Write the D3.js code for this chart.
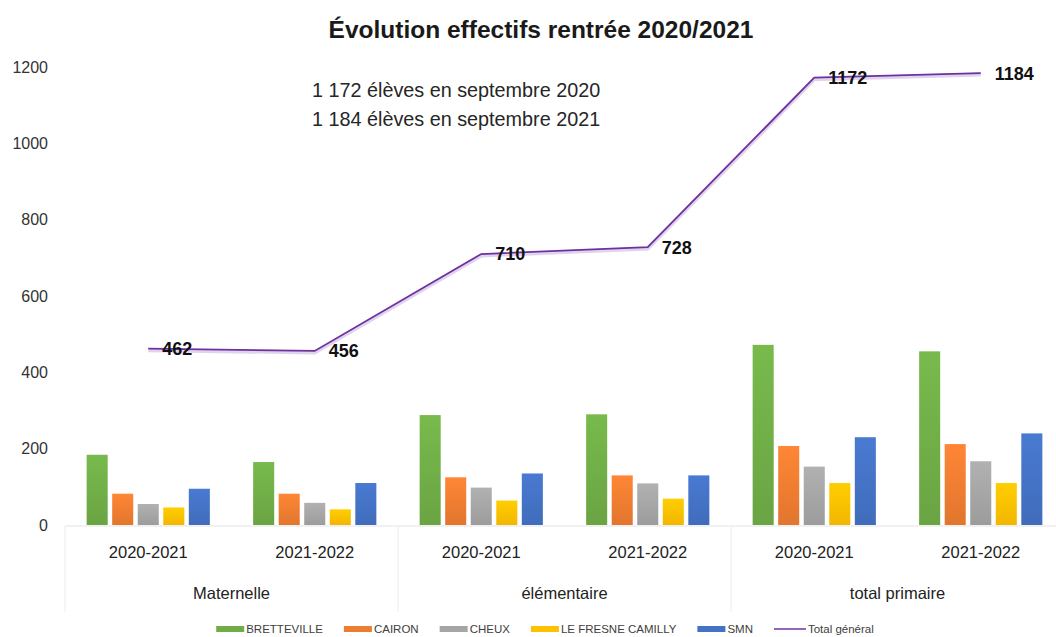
<!DOCTYPE html>
<html>
<head>
<meta charset="utf-8">
<script src="https://cdn.jsdelivr.net/npm/d3@7"></script>
<style>
  html, body { margin: 0; padding: 0; background: #fff; }
  svg { display: block; font-family: "Liberation Sans", Arial, sans-serif; }
</style>
</head>
<body>
<svg id="chart" width="1056" height="637"></svg>
<script>
// ---- Data ----
const categories = ["2020-2021", "2021-2022", "2020-2021", "2021-2022", "2020-2021", "2021-2022"];
const groups = ["Maternelle", "élémentaire", "total primaire"];
const seriesNames = ["BRETTEVILLE", "CAIRON", "CHEUX", "LE FRESNE CAMILLY", "SMN"];
const bretteville = [184, 165, 288, 290, 472, 455];
const cairon = [82, 82, 125, 130, 207, 212];
const cheux = [55, 58, 98, 109, 153, 167];
const fresne = [46, 41, 64, 69, 110, 110];
const smn = [95, 110, 135, 130, 230, 240];
const totalGeneral = [462, 456, 710, 728, 1172, 1184];
const yTicks = [0, 200, 400, 600, 800, 1000, 1200];
const lineName = "Total général";
const title = "Évolution effectifs rentrée 2020/2021";
const notes = ["1 172 élèves en septembre 2020", "1 184 élèves en septembre 2021"];

const seriesValues = [bretteville, cairon, cheux, fresne, smn];
const colors = ["#70AD47", "#ED7D31", "#A5A5A5", "#FFC000", "#4472C4"];
const lineColor = "#7030A0";

// ---- Layout ----
const svg = d3.select("#chart");
const plotLeft = 65, plotRight = 1064, plotTop = 67, plotBottom = 525;

const x = d3.scaleBand().domain(d3.range(categories.length)).range([plotLeft, plotRight]).paddingInner(0).paddingOuter(0);
const bw = x.bandwidth();
const xi = d3.scaleBand().domain(d3.range(seriesNames.length)).range([bw * 0.13, bw * 0.87]).paddingInner(0.176).paddingOuter(0);
const y = d3.scaleLinear().domain([0, 1200]).range([plotBottom, plotTop]);

const defs = svg.append("defs");
colors.forEach((c, i) => {
  const g = defs.append("linearGradient").attr("id", "grad" + i).attr("x1", 0).attr("y1", 0).attr("x2", 0).attr("y2", 1);
  g.append("stop").attr("offset", "0%").attr("stop-color", d3.color(c).brighter(0.2));
  g.append("stop").attr("offset", "100%").attr("stop-color", d3.color(c).darker(0.15));
});

// Title
svg.append("text").attr("x", 541).attr("y", 38).attr("text-anchor", "middle")
  .attr("font-size", 24.5).attr("font-weight", "bold").attr("fill", "#1a1a1a").text(title);

// Notes
notes.forEach((t, i) => {
  svg.append("text").attr("x", 312).attr("y", 97 + i * 29).attr("font-size", 19.8)
    .attr("fill", "#262626").text(t);
});

// Y axis labels
const yAxis = d3.axisLeft(y).tickValues(yTicks).tickFormat(d3.format("d")).tickSize(0).tickPadding(0);
const yg = svg.append("g").attr("transform", "translate(48,0)").call(yAxis);
yg.select(".domain").remove();
yg.selectAll("text").attr("font-size", 16).attr("fill", "#333").attr("font-family", "Liberation Sans, Arial, sans-serif");

// Bars
seriesValues.forEach((vals, si) => {
  svg.append("g").selectAll("rect").data(vals).join("rect")
    .attr("x", (d, i) => x(i) + xi(si))
    .attr("y", d => y(d))
    .attr("width", xi.bandwidth())
    .attr("height", d => y(0) - y(d))
    .attr("fill", `url(#grad${si})`);
});

// X axis base line and separators
svg.append("line").attr("x1", plotLeft).attr("x2", plotRight).attr("y1", plotBottom + 1).attr("y2", plotBottom + 1)
  .attr("stroke", "#e3e3e3").attr("stroke-width", 1);
[0, 2, 4, 6].forEach(k => {
  const xx = k < 6 ? x(k) : plotRight;
  svg.append("line").attr("x1", xx).attr("x2", xx).attr("y1", plotBottom + 1).attr("y2", 612)
    .attr("stroke", "#ececec").attr("stroke-width", 1);
});

// X labels
const xAxis = d3.axisBottom(x).tickFormat(i => categories[i]).tickSize(0).tickPadding(0);
const xg = svg.append("g").attr("transform", `translate(0,${plotBottom})`).call(xAxis);
xg.select(".domain").remove();
xg.selectAll("text").attr("font-size", 16.5).attr("fill", "#222").attr("dy", 0).attr("y", 33)
  .attr("font-family", "Liberation Sans, Arial, sans-serif");

groups.forEach((g, gi) => {
  const cx = x(gi * 2) + bw;
  svg.append("text").attr("x", cx).attr("y", 599).attr("text-anchor", "middle")
    .attr("font-size", 16.5).attr("fill", "#222").text(g);
});

// Line
const line = d3.line().x((d, i) => x(i) + bw / 2).y(d => y(d));
svg.append("path").datum(totalGeneral).attr("d", line).attr("fill", "none")
  .attr("stroke", "#b9a0d8").attr("stroke-width", 4).attr("opacity", 0.45).attr("transform", "translate(0,1.5)");
svg.append("path").datum(totalGeneral).attr("d", line).attr("fill", "none")
  .attr("stroke", lineColor).attr("stroke-width", 1.8);

// Line labels
svg.append("g").selectAll("text").data(totalGeneral).join("text")
  .attr("x", (d, i) => x(i) + bw / 2 + 14)
  .attr("y", d => y(d))
  .attr("dy", "0.36em")
  .attr("font-size", 18).attr("font-weight", "bold").attr("fill", "#111")
  .text(d => d);

// Legend
const legend = svg.append("g");
const items = seriesNames.map((n, i) => ({ name: n, color: colors[i], type: "bar" }))
  .concat([{ name: lineName, color: lineColor, type: "line" }]);
let cursor = 0;
const lg = legend.selectAll("g").data(items).join("g");
lg.each(function(d) {
  const g = d3.select(this);
  const sw = d.type === "bar" ? 28 : 32;
  if (d.type === "bar") {
    g.append("rect").attr("x", 0).attr("y", -3).attr("width", sw).attr("height", 6).attr("fill", d.color);
  } else {
    g.append("line").attr("x1", 0).attr("x2", sw).attr("y1", 0).attr("y2", 0).attr("stroke", d.color).attr("stroke-width", 1.5);
  }
  const t = g.append("text").attr("x", sw + 2).attr("y", 0).attr("dy", "0.35em")
    .attr("font-size", 11.5).attr("fill", "#404040").text(d.name);
  d.w = sw + 2 + t.node().getComputedTextLength();
  g.attr("transform", `translate(${cursor},0)`);
  cursor += d.w + 21;
});
const totalW = cursor - 21;
legend.attr("transform", `translate(${545 - totalW / 2},629)`);
</script>
</body>
</html>
